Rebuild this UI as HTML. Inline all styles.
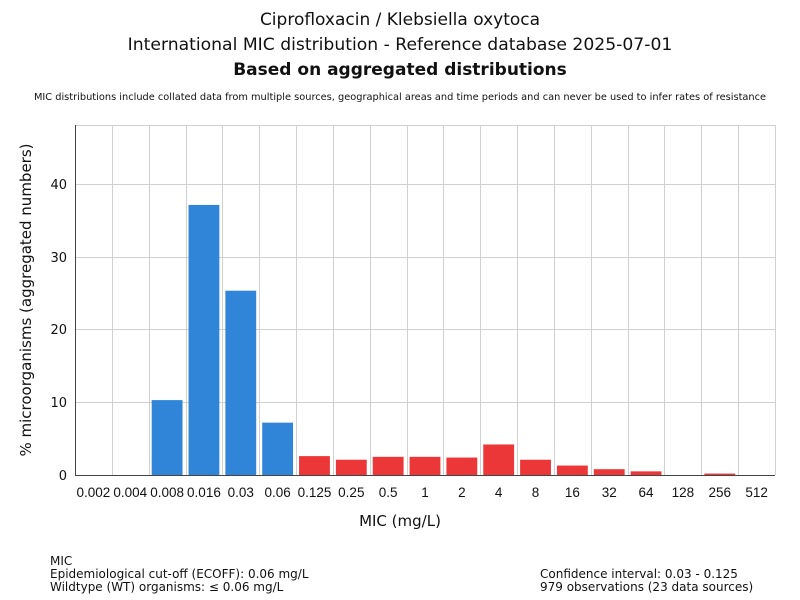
<!DOCTYPE html>
<html><head><meta charset="utf-8"><style>body{margin:0;background:#fff}svg{display:block;font-family:"DejaVu Sans","Liberation Sans",sans-serif}</style></head>
<body>
<svg width="800" height="600" xmlns="http://www.w3.org/2000/svg">
<rect width="800" height="600" fill="#fff"/>
<text x="400" y="25" font-size="17" text-anchor="middle" fill="#111">Ciprofloxacin / Klebsiella oxytoca</text>
<text x="400" y="50" font-size="17.2" text-anchor="middle" fill="#111">International MIC distribution - Reference database 2025-07-01</text>
<text x="400" y="75" font-size="17" font-weight="bold" text-anchor="middle" fill="#111">Based on aggregated distributions</text>
<text x="400" y="100" font-size="9.8" text-anchor="middle" fill="#111">MIC distributions include collated data from multiple sources, geographical areas and time periods and can never be used to infer rates of resistance</text>
<g stroke="#d0d0d0" stroke-width="1">
<line x1="75" y1="125.5" x2="775" y2="125.5"/>
<line x1="75" y1="184.5" x2="775" y2="184.5"/>
<line x1="75" y1="257.5" x2="775" y2="257.5"/>
<line x1="75" y1="329.5" x2="775" y2="329.5"/>
<line x1="75" y1="402.5" x2="775" y2="402.5"/>
<line x1="775.5" y1="125" x2="775.5" y2="475"/>
</g>
<g id="vg" stroke="#d0d0d0"></g>
<g id="bars"></g>
<line x1="75.5" y1="125" x2="75.5" y2="476" stroke="#444"/>
<line x1="75" y1="475.5" x2="775" y2="475.5" stroke="#444"/>
<g font-size="13" text-anchor="end" fill="#111">
<text x="67" y="480">0</text><text x="67" y="407">10</text><text x="67" y="334">20</text><text x="67" y="262">30</text><text x="67" y="189">40</text>
</g>
<g id="xl" font-size="13.5" text-anchor="middle" fill="#111" style="font-family:'Liberation Sans',sans-serif"></g>
<text x="400" y="526" font-size="15" text-anchor="middle" fill="#111">MIC (mg/L)</text>
<text transform="translate(31,300) rotate(-90)" font-size="15" text-anchor="middle" fill="#111">% microorganisms (aggregated numbers)</text>
<g font-size="12" fill="#111">
<text x="50" y="565">MIC</text>
<text x="50" y="578">Epidemiological cut-off (ECOFF): 0.06 mg/L</text>
<text x="50" y="591">Wildtype (WT) organisms: ≤ 0.06 mg/L</text>
<text x="540" y="578">Confidence interval: 0.03 - 0.125</text>
<text x="540" y="591">979 observations (23 data sources)</text>
</g>
<script>
var labs=["0.002","0.004","0.008","0.016","0.03","0.06","0.125","0.25","0.5","1","2","4","8","16","32","64","128","256","512"];
var vals=[0,0,10.3,37.15,25.35,7.2,2.6,2.1,2.5,2.5,2.4,4.2,2.1,1.3,0.8,0.5,0,0.2,0];
var w=700/19,ns="http://www.w3.org/2000/svg";
var vg=document.getElementById("vg"),b=document.getElementById("bars"),xl=document.getElementById("xl");
for(var i=0;i<19;i++){
 var x0=75+i*w;
 if(i>0){var l=document.createElementNS(ns,"line");var xx=Math.round(x0)+0.5;l.setAttribute("x1",xx);l.setAttribute("x2",xx);l.setAttribute("y1",125);l.setAttribute("y2",475);vg.appendChild(l);}
 if(vals[i]>0){var r=document.createElementNS(ns,"rect");var h=vals[i]*7.27;r.setAttribute("x",x0+3);r.setAttribute("width",w-6);r.setAttribute("y",475-h);r.setAttribute("height",h);r.setAttribute("fill",i<=5?"#3085d9":"#eb3737");b.appendChild(r);}
 var t=document.createElementNS(ns,"text");t.setAttribute("x",x0+w/2);t.setAttribute("y",497);t.textContent=labs[i];xl.appendChild(t);
}
</script>
</svg>
</body></html>
